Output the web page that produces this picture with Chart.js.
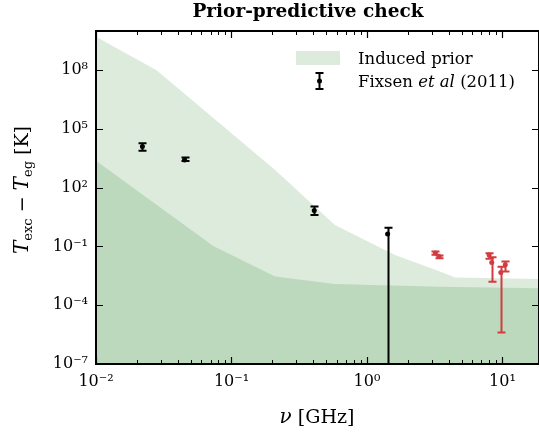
<!DOCTYPE html>
<html>
<head>
<meta charset="utf-8">
<script src="https://cdn.jsdelivr.net/npm/chart.js@4.4.1/dist/chart.umd.min.js"></script>
<style>
  html, body { margin: 0; padding: 0; background: #fff; }
  #wrap { width: 539px; height: 438px; }
</style>
</head>
<body>
<div id="wrap"><canvas id="priorChart" width="539" height="438"></canvas></div>
<script>
// induced prior band: top of the light region, top of the darker region
const upperFreq = [0.01, 0.028, 0.21, 0.58, 1.61, 3.46, 4.47, 18.6];
const upperT = [5.1e9, 1.0e8, 8.1e2, 1.26, 3.7e-2, 5.2e-3, 2.6e-3, 2.2e-3];
const lowerFreq = [0.01, 0.0734, 0.21, 0.58, 3.46, 18.6];
const lowerT = [2.4e3, 1.07e-1, 2.9e-3, 1.2e-3, 8.9e-4, 7.4e-4];

// Fixsen et al (2011), low-frequency points (black)
const fixsenFreq = [0.022, 0.045, 0.408, 1.42];
const fixsenT = [1.26e4, 2.63e3, 6.8, 0.43];
const fixsenLow = [7.6e3, 2.3e3, 4.1, 1e-9];
const fixsenHigh = [1.86e4, 3.5e3, 11, 0.91];

// ARCADE 2 points (red)
const arcadeFreq = [3.20, 3.41, 7.97, 8.33, 9.72, 10.49];
const arcadeT = [0.046, 0.031, 0.037, 0.015, 0.0047, 0.0115];
const arcadeLow = [0.038, 0.025, 0.0234, 0.0016, 4.1e-6, 0.0052];
const arcadeHigh = [0.056, 0.035, 0.0457, 0.028, 0.0093, 0.017];

const xTickValues = [0.01, 0.1, 1, 10];
const xTickLabels = ['10⁻²', '10⁻¹', '10⁰', '10¹'];
const yTickValues = [1e-7, 1e-4, 1e-1, 1e2, 1e5, 1e8];
const yTickLabels = ['10⁻⁷', '10⁻⁴', '10⁻¹', '10²', '10⁵', '10⁸'];

const LIGHT = 'rgb(221,235,221)';
const DARK = 'rgb(189,217,189)';
const RED = 'rgb(210,60,65)';
const SERIF = "'DejaVu Serif', serif";

const pts = (xs, ys) => xs.map((v, i) => ({ x: v, y: ys[i] }));

// error bars, drawn from the scales
const errorBars = {
  id: 'errorBars',
  afterDatasetsDraw(chart) {
    const { ctx, chartArea: a, scales: { x, y } } = chart;
    ctx.save();
    ctx.beginPath();
    ctx.rect(a.left, a.top, a.right - a.left, a.bottom - a.top);
    ctx.clip();
    chart.data.datasets.forEach(ds => {
      if (!ds.errLow) return;
      ctx.strokeStyle = ds.borderColor;
      ctx.lineWidth = 2;
      ds.data.forEach((p, i) => {
        const px = Math.round(x.getPixelForValue(p.x)) + 0.5;
        const y1 = y.getPixelForValue(ds.errHigh[i]);
        const y0 = y.getPixelForValue(ds.errLow[i]);
        ctx.beginPath();
        ctx.moveTo(px, y1);
        ctx.lineTo(px, y0);
        ctx.moveTo(px - 4, y1);
        ctx.lineTo(px + 4, y1);
        ctx.moveTo(px - 4, y0);
        ctx.lineTo(px + 4, y0);
        ctx.stroke();
      });
    });
    ctx.restore();
  }
};

// frame and inward ticks (matplotlib style)
const frameTicks = {
  id: 'frameTicks',
  afterDatasetsDraw(chart) {
    const { ctx, chartArea: a, scales: { x, y } } = chart;
    ctx.save();
    ctx.strokeStyle = '#000';
    ctx.lineWidth = 1;
    const minor = [];
    for (let d = -2; d <= 1; d++) {
      for (let m = 2; m <= 9; m++) {
        const v = m * Math.pow(10, d);
        if (v < x.max) minor.push(v);
      }
    }
    ctx.beginPath();
    minor.forEach(v => {
      const px = Math.round(x.getPixelForValue(v)) + 0.5;
      ctx.moveTo(px, a.bottom); ctx.lineTo(px, a.bottom - 4);
      ctx.moveTo(px, a.top); ctx.lineTo(px, a.top + 4);
    });
    ctx.stroke();
    ctx.lineWidth = 1.2;
    ctx.beginPath();
    xTickValues.forEach(v => {
      const px = Math.round(x.getPixelForValue(v)) + 0.5;
      ctx.moveTo(px, a.bottom); ctx.lineTo(px, a.bottom - 7);
      ctx.moveTo(px, a.top); ctx.lineTo(px, a.top + 7);
    });
    yTickValues.forEach(v => {
      const py = Math.round(y.getPixelForValue(v)) + 0.5;
      ctx.moveTo(a.left, py); ctx.lineTo(a.left + 7, py);
      ctx.moveTo(a.right, py); ctx.lineTo(a.right - 7, py);
    });
    ctx.stroke();
    ctx.lineWidth = 2;
    ctx.strokeRect(a.left, a.top, a.right - a.left, a.bottom - a.top);
    ctx.restore();
  }
};

function drawParts(ctx, parts, cx, cy) {
  let w = 0;
  parts.forEach(p => { ctx.font = p.f; w += ctx.measureText(p.t).width; });
  let cur = cx - w / 2;
  parts.forEach(p => {
    ctx.font = p.f;
    ctx.fillText(p.t, cur, cy + (p.dy || 0));
    cur += ctx.measureText(p.t).width;
  });
}

// title, axis titles and legend
const labels = {
  id: 'labels',
  afterDraw(chart) {
    const { ctx } = chart;
    ctx.save();
    ctx.fillStyle = '#000';
    ctx.textBaseline = 'alphabetic';
    ctx.textAlign = 'left';

    drawParts(ctx, [{ t: 'Prior-predictive check', f: `bold 18.5px ${SERIF}` }], 308, 17);

    drawParts(ctx, [
      { t: 'ν', f: `italic 20px ${SERIF}` },
      { t: ' [GHz]', f: `19px ${SERIF}` }
    ], 317, 423);

    ctx.save();
    ctx.translate(28, 190);
    ctx.rotate(-Math.PI / 2);
    drawParts(ctx, [
      { t: 'T', f: `italic 20px ${SERIF}` },
      { t: 'exc', f: `13px ${SERIF}`, dy: 4 },
      { t: ' − ', f: `19px ${SERIF}` },
      { t: 'T', f: `italic 20px ${SERIF}` },
      { t: 'eg', f: `13px ${SERIF}`, dy: 4 },
      { t: ' [K]', f: `19px ${SERIF}` }
    ], 0, 0);
    ctx.restore();

    // legend
    ctx.fillStyle = LIGHT;
    ctx.fillRect(296, 51, 44, 14);
    ctx.fillStyle = '#000';
    ctx.font = `16.5px ${SERIF}`;
    ctx.fillText('Induced prior', 358, 64);

    ctx.strokeStyle = '#000';
    ctx.lineWidth = 2;
    ctx.beginPath();
    ctx.moveTo(319.5, 73); ctx.lineTo(319.5, 89);
    ctx.moveTo(315.5, 73); ctx.lineTo(323.5, 73);
    ctx.moveTo(315.5, 89); ctx.lineTo(323.5, 89);
    ctx.stroke();
    ctx.beginPath();
    ctx.arc(319.5, 81, 2.5, 0, Math.PI * 2);
    ctx.fill();

    let cx = 358;
    [['Fixsen ', `16.5px ${SERIF}`], ['et al', `italic 16.5px ${SERIF}`], [' (2011)', `16.5px ${SERIF}`]].forEach(([t, f]) => {
      ctx.font = f;
      ctx.fillText(t, cx, 87);
      cx += ctx.measureText(t).width;
    });
    ctx.restore();
  }
};

const tickFont = { family: SERIF, size: 16 };

new Chart(document.getElementById('priorChart'), {
  type: 'scatter',
  data: {
    datasets: [
      {
        label: 'ARCADE 2',
        data: pts(arcadeFreq, arcadeT),
        errLow: arcadeLow,
        errHigh: arcadeHigh,
        borderColor: RED,
        backgroundColor: RED,
        pointRadius: 2.5,
        pointBorderWidth: 0,
        order: 0
      },
      {
        label: 'Fixsen et al (2011)',
        data: pts(fixsenFreq, fixsenT),
        errLow: fixsenLow,
        errHigh: fixsenHigh,
        borderColor: '#000',
        backgroundColor: '#000',
        pointRadius: 2.5,
        pointBorderWidth: 0,
        order: 1
      },
      {
        type: 'line',
        label: 'prior core',
        data: pts(lowerFreq, lowerT),
        borderWidth: 0,
        pointRadius: 0,
        tension: 0,
        fill: 'start',
        backgroundColor: DARK,
        order: 3
      },
      {
        type: 'line',
        label: 'Induced prior',
        data: pts(upperFreq, upperT),
        borderWidth: 0,
        pointRadius: 0,
        tension: 0,
        fill: 'start',
        backgroundColor: LIGHT,
        order: 4
      }
    ]
  },
  options: {
    responsive: false,
    animation: false,
    layout: { autoPadding: false, padding: { top: 31, left: 0, right: 0, bottom: 0 } },
    plugins: {
      legend: { display: false },
      title: { display: false },
      tooltip: { enabled: false }
    },
    scales: {
      x: {
        type: 'logarithmic',
        min: 0.01,
        max: 18.6,
        grid: { display: false, drawTicks: false },
        border: { display: false },
        afterBuildTicks: s => { s.ticks = xTickValues.map(v => ({ value: v })); },
        afterFit: s => { s.height = 74; s.paddingLeft = 0; s.paddingRight = 0; },
        ticks: {
          font: tickFont, color: '#000', padding: 8,
          maxRotation: 0, autoSkip: false,
          callback: (v, i) => xTickLabels[i]
        }
      },
      y: {
        type: 'logarithmic',
        min: 1e-7,
        max: 1e10,
        grid: { display: false, drawTicks: false },
        border: { display: false },
        afterBuildTicks: s => { s.ticks = yTickValues.map(v => ({ value: v })); },
        afterFit: s => { s.width = 96; s.paddingTop = 0; s.paddingBottom = 0; },
        ticks: {
          font: tickFont, color: '#000', padding: 8,
          autoSkip: false,
          callback: (v, i) => yTickLabels[i]
        }
      }
    }
  },
  plugins: [errorBars, frameTicks, labels]
});
</script>
</body>
</html>
